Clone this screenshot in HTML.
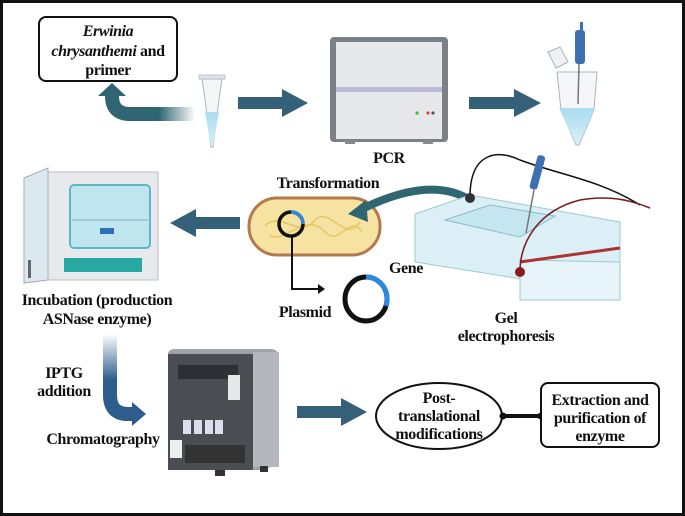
<!DOCTYPE html>
<html><head><meta charset="utf-8"><style>
html,body{margin:0;padding:0;background:#fff;}
svg{display:block;}
text{font-family:"Liberation Serif",serif;font-weight:bold;font-size:16px;letter-spacing:-0.4px;fill:#111;text-anchor:middle;}
</style></head><body>
<svg width="685" height="516" viewBox="0 0 685 516" xmlns="http://www.w3.org/2000/svg">
<defs>
<linearGradient id="ga" gradientUnits="userSpaceOnUse" x1="129" y1="0" x2="195" y2="0"><stop offset="0.45" stop-color="#2f6672"/><stop offset="1" stop-color="#2f6672" stop-opacity="0"/></linearGradient>
<linearGradient id="gv" gradientUnits="userSpaceOnUse" x1="0" y1="334" x2="0" y2="400"><stop offset="0" stop-color="#2c5d8c" stop-opacity="0"/><stop offset="0.7" stop-color="#2c5d8c"/></linearGradient>
<linearGradient id="liq" x1="0" x2="0" y1="0" y2="1"><stop offset="0" stop-color="#a9dcef"/><stop offset="1" stop-color="#d8f0f8"/></linearGradient>
</defs>
<rect x="1.5" y="1.5" width="682" height="513" fill="#fff" stroke="#111" stroke-width="3"/>

<rect x="39" y="17" width="138" height="64" rx="7" fill="#fff" stroke="#111" stroke-width="2"/>
<text x="108" y="36" font-style="italic">Erwinia</text>
<text x="108" y="56"><tspan font-style="italic">chrysanthemi</tspan> and</text>
<text x="108" y="75">primer</text>

<path d="M130,114 Q112,114 112,96 L112,94" fill="none" stroke="#2f6672" stroke-width="14"/>
<polygon points="98,96 126,96 112,83" fill="#2f6672"/>
<path d="M129,114 L195,114" stroke="url(#ga)" stroke-width="14"/>

<path d="M202,79 L222,79 L220,92 L213,147 L211,147 L204,92 Z" fill="#f4f6f8" stroke="#aab4bc"/>
<path d="M205,112 L219,112 L213,146 L211,146 Z" fill="url(#liq)"/>
<rect x="199" y="75" width="26" height="4" fill="#e0e4e8" stroke="#aab4bc" stroke-width="0.7"/>

<polygon points="238,97 282,97 282,89 308,103 282,117 282,109 238,109" fill="#35607a"/>

<rect x="330" y="37" width="118" height="105" rx="4" fill="#7b7f86"/>
<rect x="336" y="42" width="106" height="45" fill="#e6e8ec"/>
<rect x="336" y="87" width="106" height="5" fill="#bdb9d6"/>
<rect x="336" y="92" width="106" height="47" fill="#e6e8ec"/>
<circle cx="417" cy="113" r="1.6" fill="#2c2"/><circle cx="428" cy="113" r="1.6" fill="#d44"/><circle cx="433" cy="113" r="1.6" fill="#555"/>
<rect x="345" y="140" width="10" height="4" fill="#888"/><rect x="423" y="140" width="10" height="4" fill="#888"/>
<text x="389" y="163">PCR</text>

<polygon points="469,97 514,97 514,89 541,103 514,117 514,109 469,109" fill="#35607a"/>

<path d="M557,72 L597,72 L594,110 L579,145 L576,145 L561,110 Z" fill="#f4f6f8" stroke="#aab4bc"/>
<path d="M559,108 L595,108 L579,144 L576,144 Z" fill="url(#liq)"/>
<path d="M548,52 L560,47 L568,62 L556,68 Z" fill="#eef1f3" stroke="#aab4bc"/>
<rect x="575" y="30" width="10" height="34" rx="3" fill="#3e6fb0"/>
<rect x="580" y="22" width="3" height="9" fill="#3e6fb0"/>
<line x1="579" y1="64" x2="578" y2="104" stroke="#777" stroke-width="1.5"/>

<rect x="48" y="172" width="110" height="108" fill="#e7e9ec" stroke="#b8bcc2"/>
<rect x="70" y="185" width="80" height="63" rx="4" fill="#bfe6ef" stroke="#5fb7c4" stroke-width="2"/>
<line x1="72" y1="220" x2="148" y2="220" stroke="#8aa" />
<rect x="100" y="228" width="14" height="6" fill="#2e6fb5"/>
<rect x="64" y="258" width="78" height="14" fill="#27a8a3"/>
<path d="M24,178 L48,168 L48,280 L24,283 Z" fill="#dbe9ef" stroke="#aab"/>
<rect x="28" y="260" width="3" height="18" fill="#666"/>

<polygon points="240,217 196,217 196,209 170,223 196,237 196,229 240,229" fill="#35607a"/>

<text x="328" y="188">Transformation</text>
<rect x="249" y="198" width="131" height="57" rx="28" fill="#f6e3a2" stroke="#b27a4c" stroke-width="3"/>
<path d="M265,226 C280,210 300,240 315,220 C330,205 345,245 360,222" fill="none" stroke="#e6c765" stroke-width="1.5"/>
<path d="M270,235 C285,245 305,210 325,232 C340,248 350,212 362,232" fill="none" stroke="#e6c765" stroke-width="1.5"/>
<circle cx="291" cy="224" r="12" fill="none" stroke="#111" stroke-width="3.5"/>
<path d="M291,212 A12,12 0 0 1 303,224" fill="none" stroke="#2f88e0" stroke-width="3.5"/>
<path d="M470,200 Q430,175 360,210" fill="none" stroke="#2f6672" stroke-width="8"/>
<polygon points="348,214 366,200 368,222" fill="#2f6672"/>

<path d="M292,236 L292,289 L318,289" fill="none" stroke="#111" stroke-width="2"/>
<polygon points="318,284 325,289 318,294" fill="#111"/>
<ellipse cx="366" cy="299" rx="21" ry="22" fill="none" stroke="#111" stroke-width="5"/>
<path d="M366,277 A21,22 0 0 1 386,306" fill="none" stroke="#2f88e0" stroke-width="5"/>
<text x="406" y="273">Gene</text>
<text x="305" y="317">Plasmid</text>

<path d="M415,214 L470,195 L620,222 L620,262 L600,290 L540,290 L540,282 L415,262 Z" fill="#dceff6" stroke="#9cc" />
<path d="M520,260 L620,262 L620,300 L520,300 Z" fill="#e6f3f8" stroke="#9cc"/>
<line x1="520" y1="262" x2="620" y2="248" stroke="#a33" stroke-width="3"/>
<path d="M445,220 L490,205 L555,216 L520,237 Z" fill="#c5e6ee" stroke="#8bc"/>
<path d="M470,197 C470,150 500,150 520,160 C560,175 600,180 640,205" fill="none" stroke="#111" stroke-width="1.5"/>
<path d="M520,272 C520,240 540,210 580,200 C610,195 630,200 650,208" fill="none" stroke="#7a1a1a" stroke-width="1.5"/>
<circle cx="470" cy="198" r="5" fill="#333"/>
<circle cx="520" cy="272" r="5" fill="#8b1c1c"/>
<rect x="534" y="155" width="8" height="35" rx="3" fill="#3e6fb0" transform="rotate(15 538 170)"/>
<line x1="534" y1="190" x2="526" y2="233" stroke="#777" stroke-width="1.5"/>
<text x="506" y="323">Gel</text>
<text x="506" y="341">electrophoresis</text>

<text x="97" y="305">Incubation (production</text>
<text x="97" y="324">ASNase enzyme)</text>

<path d="M110,334 L110,395 Q110,414 128,414 L134,414" fill="none" stroke="url(#gv)" stroke-width="14"/>
<polygon points="132,402 146,414 132,426" fill="#2c5d8c"/>
<text x="64" y="378">IPTG</text>
<text x="64" y="396">addition</text>
<text x="103" y="444">Chromatography</text>

<path d="M168,355 Q168,349 175,349 L270,349 Q279,349 279,358 L279,462 L265,470 L168,470 Z" fill="#9ea3a8"/>
<rect x="168" y="354" width="85" height="116" fill="#4a4d52"/>
<rect x="253" y="352" width="26" height="115" fill="#b4b8bc"/>
<rect x="178" y="365" width="60" height="14" fill="#2e3034"/>
<rect x="183" y="420" width="8" height="14" fill="#dde"/><rect x="194" y="420" width="8" height="14" fill="#dde"/><rect x="205" y="420" width="8" height="14" fill="#dde"/><rect x="215" y="420" width="8" height="14" fill="#dde"/>
<rect x="170" y="440" width="12" height="18" fill="#eee"/>
<rect x="185" y="445" width="60" height="18" fill="#333"/>
<rect x="228" y="375" width="12" height="25" fill="#e8e8e8"/>
<rect x="215" y="470" width="10" height="6" fill="#333"/><rect x="260" y="466" width="8" height="6" fill="#333"/>

<polygon points="297,406 341,406 341,398 367,412 341,426 341,418 297,418" fill="#35607a"/>

<ellipse cx="439" cy="416" rx="63" ry="33" fill="#fff" stroke="#111" stroke-width="2"/>
<text x="439" y="403">Post-</text>
<text x="439" y="421">translational</text>
<text x="439" y="439">modifications</text>
<line x1="502" y1="416" x2="541" y2="416" stroke="#111" stroke-width="4"/>
<circle cx="503" cy="416" r="3.5" fill="#111"/><circle cx="541" cy="416" r="3.5" fill="#111"/>

<rect x="541" y="383" width="118" height="64" rx="7" fill="#fff" stroke="#111" stroke-width="2"/>
<text x="600" y="405">Extraction and</text>
<text x="600" y="423">purification of</text>
<text x="600" y="441">enzyme</text>
</svg>
</body></html>
